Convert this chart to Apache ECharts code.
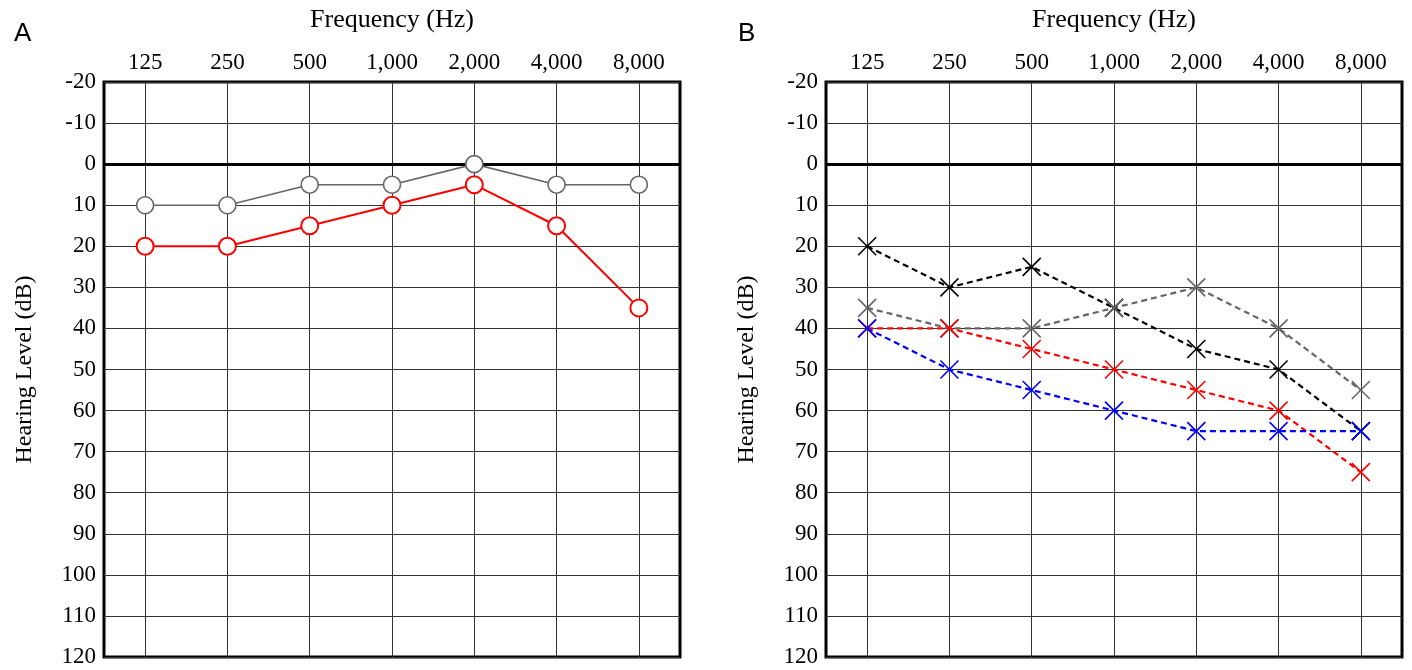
<!DOCTYPE html>
<html><head><meta charset="utf-8">
<script src="https://cdn.jsdelivr.net/npm/echarts@6/dist/echarts.min.js"></script>
<style>html,body{margin:0;padding:0;background:#fff}#c{width:1412px;height:670px}</style>
</head><body><div id="c"></div>
<script>
const freqs = ['125','250','500','1,000','2,000','4,000','8,000'];
const yTicks = [-20,120,10];
// Panel A
const aGrey = [10,10,5,5,0,5,5];
const aRed = [20,20,15,10,5,15,35];
// Panel B
const bBlack = [20,30,25,35,45,50,65];
const bGrey = [35,40,40,35,30,40,55];
const bRed = [40,40,45,50,55,60,75];
const bBlue = [40,50,55,60,65,65,65];

const serif = '"Liberation Serif","DejaVu Serif",serif';
const chart = echarts.init(document.getElementById('c'), null, {renderer:'canvas'});

function xAx(i){return {type:'category',gridIndex:i,data:freqs,position:'top',boundaryGap:true,
  name:'Frequency (Hz)',nameLocation:'middle',nameGap:49,nameTextStyle:{fontFamily:serif,fontSize:26,color:'#000'},
  axisLine:{show:false},axisTick:{show:false},splitLine:{show:false},
  axisLabel:{fontFamily:serif,fontSize:23,color:'#000',margin:8}};}
function yAx(i){return {type:'value',gridIndex:i,inverse:true,min:yTicks[0],max:yTicks[1],interval:yTicks[2],
  name:'Hearing Level (dB)',nameLocation:'middle',nameGap:67,nameRotate:90,nameTextStyle:{fontFamily:serif,fontSize:24,color:'#000'},
  axisLine:{show:false},axisTick:{show:false},
  splitLine:{show:true,lineStyle:{color:'#333',width:1}},
  axisLabel:{fontFamily:serif,fontSize:23,color:'#000',margin:8}};}

function gridLines(i){
  return {type:'line',xAxisIndex:i,yAxisIndex:i,data:[],silent:true,
    markLine:{silent:true,z:1,symbol:['none','none'],label:{show:false},animation:false,
      data:freqs.map(f=>({xAxis:f,lineStyle:{color:'#333',width:1,type:'solid'}})).concat([{yAxis:0,lineStyle:{color:'#000',width:3,type:'solid'}}])}};
}
const cross = 'path://M0,0L10,10M10,0L0,10';
function circ(i,data,color,w){return {type:'line',xAxisIndex:i,yAxisIndex:i,data:data,symbol:'circle',symbolSize:17,
  lineStyle:{color:color,width:w},itemStyle:{color:'#fff',borderColor:color,borderWidth:w},z:5,animation:false};}
function xs(i,data,color){return {type:'line',xAxisIndex:i,yAxisIndex:i,data:data,symbol:cross,symbolSize:18,
  lineStyle:{color:color,width:2.2,type:[6,4]},itemStyle:{color:'none',borderColor:color,borderWidth:1.6},z:5,animation:false};}

chart.setOption({
  animation:false,
  grid:[
    {left:104,top:82,width:576,height:575,show:true,borderColor:'#000',borderWidth:3,backgroundColor:'transparent',containLabel:false,outerBoundsMode:'none'},
    {left:826,top:82,width:576,height:575,show:true,borderColor:'#000',borderWidth:3,backgroundColor:'transparent',containLabel:false,outerBoundsMode:'none'}
  ],
  xAxis:[xAx(0),xAx(1)],
  yAxis:[yAx(0),yAx(1)],
  graphic:[
    {type:'text',left:14,top:21,style:{text:'A',font:'26px "Liberation Sans",Arial,sans-serif',fill:'#000'}},
    {type:'text',left:738,top:21,style:{text:'B',font:'26px "Liberation Sans",Arial,sans-serif',fill:'#000'}}
  ],
  series:[
    gridLines(0),gridLines(1),
    circ(0,aGrey,'#666',1.6),
    circ(0,aRed,'#ff0000',2),
    xs(1,bBlack,'#000'),
    xs(1,bGrey,'#666'),
    xs(1,bRed,'#ff0000'),
    xs(1,bBlue,'#0000ff')
  ]
});
</script></body></html>
